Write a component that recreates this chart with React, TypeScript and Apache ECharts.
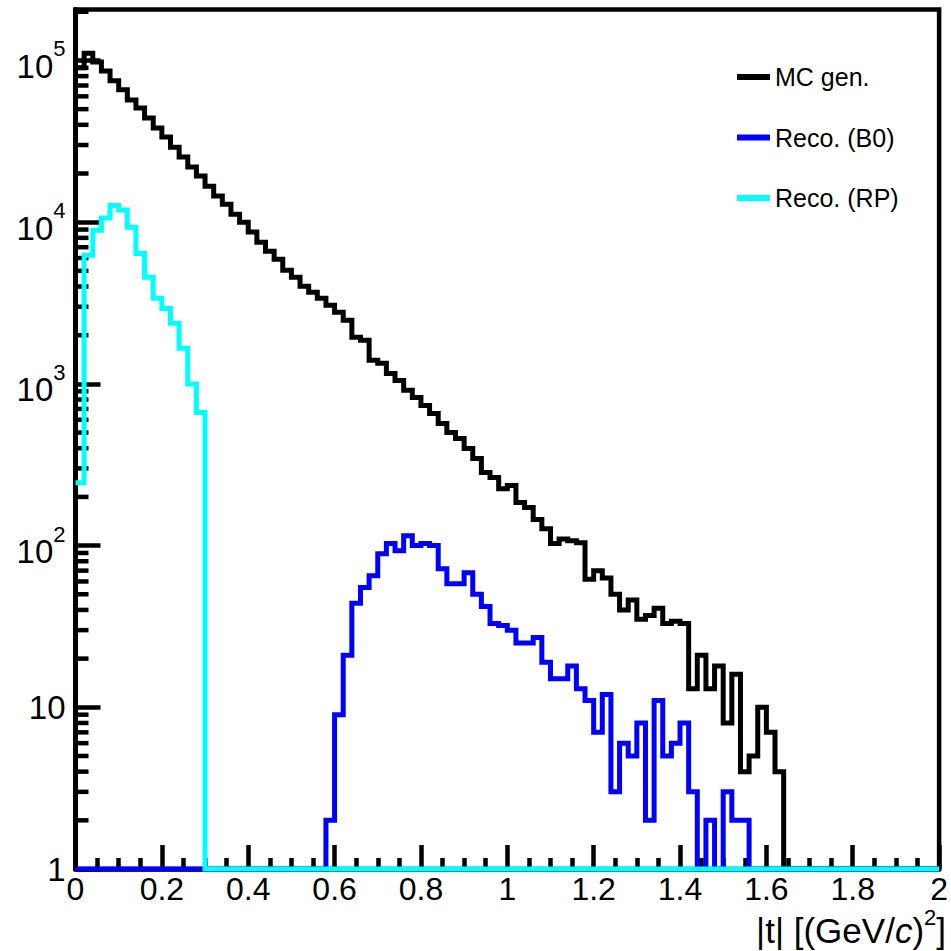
import { useEffect, useRef } from "react";
import * as echarts from "echarts";

// ---------- data (bin width 0.02 in |t|, 100 bins from 0 to 2) ----------
const BIN_WIDTH = 0.02;
const N_BINS = 100;
const X_MIN = 0;
const X_MAX = 2;
const Y_MIN = 1;
const Y_MAX = 206600;

const seriesNames = ["MC gen.", "Reco. (B0)", "Reco. (RP)"];
const seriesColors = ["#000000", "#0000ff", "#00ffff"];

// MC generated, bins 0..81 (rest empty)
const mcGen = [
  90000, 111000, 98000, 86000, 75000, 66000, 57000, 50800, 44000, 38200,
  33600, 29100, 25300, 21900, 19300, 16700, 14500, 12900, 11200, 10000,
  8700, 7500, 6600, 5900, 5050, 4570, 4020, 3690, 3390, 3060,
  2770, 2470, 1940, 1860, 1400, 1340, 1160, 1050, 912, 825,
  736, 657, 569, 501, 460, 398, 346, 283, 264, 225,
  235, 185, 172, 145, 127, 103, 110, 107, 104, 62,
  70, 63, 50, 40, 46, 35, 37, 41, 33, 34,
  33, 13, 21, 13, 18, 8, 16, 4, 5, 10,
  7, 4,
];

// Reconstructed in B0, bins 0..77
const recoB0 = [
  0, 0, 0, 0, 0, 0, 0, 0, 0, 0,
  0, 0, 0, 0, 0, 0, 0, 0, 0, 0,
  0, 0, 0, 0, 0, 0, 0, 0, 0, 2,
  9, 21, 44, 55, 65, 89, 103, 93, 115, 100,
  103, 100, 72, 58, 58, 68, 50, 42, 33, 32,
  30, 25, 25, 27, 19, 15, 15, 18, 13, 11,
  7, 12, 3, 6, 5, 8, 2, 11, 5, 6,
  8, 3, 0, 2, 0, 3, 2, 2,
];

// Reconstructed in Roman Pots, bins 0..14
const recoRP = [
  245, 6250, 8900, 10600, 12700, 11900, 9300, 6400, 4570, 3380,
  2930, 2370, 1660, 1000, 666,
];

const xTickLabels = ["0", "0.2", "0.4", "0.6", "0.8", "1", "1.2", "1.4", "1.6", "1.8", "2"];
const yDecades = [1, 10, 100, 1000, 10000, 100000];
const yMinorMultipliers = [2, 3, 4, 5, 6, 7, 8, 9];

const FONT = "'Liberation Sans', Arial, Helvetica, sans-serif";

function padBins(values: number[]): number[] {
  const out = values.slice();
  while (out.length < N_BINS) out.push(0);
  return out;
}

function toSteps(values: number[]): number[][] {
  const pts: number[][] = [];
  padBins(values).forEach((v, k) => {
    const y = v > 0 ? v : Y_MIN;
    pts.push([k * BIN_WIDTH, y], [(k + 1) * BIN_WIDTH, y]);
  });
  return pts;
}

export default function App() {
  const ref = useRef<HTMLDivElement>(null);

  useEffect(() => {
    if (!ref.current) return;
    const chart = echarts.init(ref.current, null, { renderer: "svg" });

    const yMinor: number[][] = [];
    yDecades.forEach((d) =>
      yMinorMultipliers.forEach((m) => {
        if (d * m <= Y_MAX) yMinor.push([X_MIN, d * m]);
      })
    );

    const histData = [mcGen, recoB0, recoRP];

    const option: any = {
      animation: false,
      backgroundColor: "#ffffff",
      grid: {
        left: 75.5,
        right: 4,
        top: 9.5,
        bottom: 82,
        show: true,
        borderColor: "#000",
        borderWidth: 4.5,
        backgroundColor: "transparent",
      },
      legend: {
        orient: "vertical",
        left: 732,
        top: 59.5,
        itemWidth: 33,
        itemHeight: 6,
        itemGap: 35.5,
        icon: "rect",
        selectedMode: false,
        data: seriesNames,
        textStyle: { fontSize: 25, fontFamily: FONT, color: "#000", lineHeight: 25 },
      },
      xAxis: {
        type: "value",
        min: X_MIN,
        max: X_MAX,
        interval: 0.2,
        axisLine: { show: true, onZero: false, lineStyle: { color: "#000", width: 4.5 } },
        axisTick: { show: true, inside: true, length: 24, lineStyle: { color: "#000", width: 4.5 } },
        minorTick: { show: true, splitNumber: 4, length: 11, lineStyle: { color: "#000", width: 4.5 } },
        splitLine: { show: false },
        minorSplitLine: { show: false },
        axisLabel: {
          margin: 4,
          fontSize: 32,
          fontFamily: FONT,
          color: "#000",
          formatter: (v: number) => {
            const idx = Math.round(v / 0.2);
            return xTickLabels[idx] ?? "";
          },
        },
      },
      yAxis: {
        type: "log",
        logBase: 10,
        min: Y_MIN,
        max: Y_MAX,
        splitNumber: 5,
        axisLine: { show: true, onZero: false, lineStyle: { color: "#000", width: 5 } },
        axisTick: { show: true, inside: true, length: 25, lineStyle: { color: "#000", width: 4.5 } },
        splitLine: { show: false },
        axisLabel: {
          margin: 10,
          showMaxLabel: false,
          formatter: (v: number) => {
            const l = Math.log10(v);
            const e = Math.round(l);
            if (Math.abs(l - e) > 1e-6) return "";
            if (e === 0) return "{c|1}";
            if (e === 1) return "{c|10}";
            return `{a|10}{b|${e}}`;
          },
          rich: {
            a: { fontSize: 33, fontFamily: FONT, color: "#000", lineHeight: 45, verticalAlign: "bottom" },
            b: { fontSize: 22, fontFamily: FONT, color: "#000", verticalAlign: "top" },
            c: { fontSize: 33, fontFamily: FONT, color: "#000" },
          },
        },
      },
      series: [
        ...histData.map((vals, i) => ({
          name: seriesNames[i],
          type: "line",
          data: toSteps(vals),
          showSymbol: false,
          symbol: "none",
          clip: false,
          silent: true,
          color: seriesColors[i],
          lineStyle: { color: seriesColors[i], width: 5, join: "miter", cap: "butt" },
          emphasis: { disabled: true },
        })),
        {
          type: "custom",
          silent: true,
          clip: false,
          data: yMinor,
          renderItem: (_params: any, api: any) => {
            const p = api.coord([X_MIN, api.value(1)]);
            return {
              type: "line",
              shape: { x1: p[0], y1: p[1], x2: p[0] + 13, y2: p[1] },
              style: { stroke: "#000", lineWidth: 4.5 },
            };
          },
        },
      ],
      graphic: [
        {
          type: "text",
          x: 946,
          y: 927,
          style: {
            text: "{n||t| [(GeV/}{i|c}{n|)}{s|2}{n|]}",
            align: "right",
            verticalAlign: "middle",
            rich: {
              n: { fontSize: 35, fontFamily: FONT, fill: "#000", lineHeight: 42, verticalAlign: "bottom" },
              i: { fontSize: 35, fontFamily: FONT, fontStyle: "italic", fill: "#000", lineHeight: 42, verticalAlign: "bottom" },
              s: { fontSize: 22, fontFamily: FONT, fill: "#000", verticalAlign: "top" },
            },
          },
        },
      ],
    };

    chart.setOption(option);
    return () => chart.dispose();
  }, []);

  return (
    <div
      ref={ref}
      style={{ position: "fixed", left: 0, top: 0, width: 951, height: 951, background: "#fff" }}
    />
  );
}
